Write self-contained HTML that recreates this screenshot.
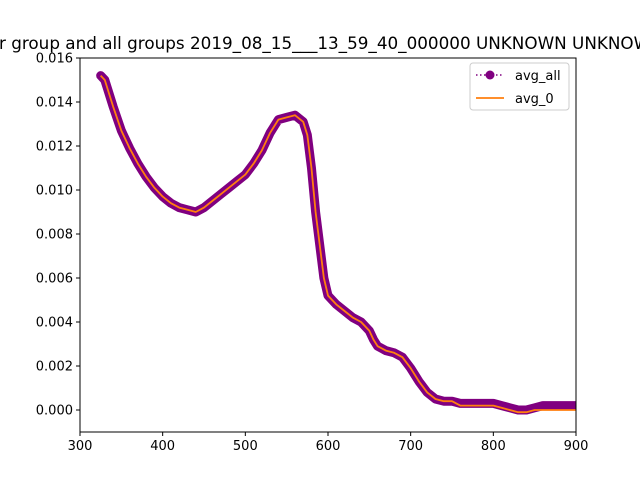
<!DOCTYPE html>
<html><head><meta charset="utf-8"><style>body{margin:0;background:#fff}svg{display:block;font-family:"DejaVu Sans","Liberation Sans",sans-serif}</style></head>
<body>
<svg id="chart" width="640" height="480"></svg>
<script>
const xs = [325,330,340,350,360,370,380,390,400,410,420,430,440,450,460,470,480,490,500,510,520,530,540,550,560,570,575,580,585,590,595,600,610,620,630,640,650,655,660,670,680,690,700,710,720,730,740,750,760,770,780,800,810,820,830,840,850,860,880,900];
const avgAll = [0.0152,0.0150,0.0138,0.0127,0.0119,0.0112,0.0106,0.0101,0.0097,0.0094,0.0092,0.0091,0.0090,0.0092,0.0095,0.0098,0.0101,0.0104,0.0107,0.0112,0.0118,0.0126,0.0132,0.0133,0.0134,0.0131,0.0125,0.0110,0.0090,0.0075,0.0060,0.0052,0.0048,0.0045,0.0042,0.0040,0.0036,0.0032,0.0029,0.0027,0.0026,0.0024,0.0019,0.0013,0.0008,0.0005,0.0004,0.0004,0.0003,0.0003,0.0003,0.0003,0.0002,0.0001,0.0000,0.0000,0.0001,0.0002,0.0002,0.0002];
const avg0 = [0.0152,0.0150,0.0138,0.0127,0.0119,0.0112,0.0106,0.0101,0.0097,0.0094,0.0092,0.0091,0.0090,0.0092,0.0095,0.0098,0.0101,0.0104,0.0107,0.0112,0.0118,0.0126,0.0132,0.0133,0.0134,0.0131,0.0125,0.0110,0.0090,0.0075,0.0060,0.0052,0.0048,0.0045,0.0042,0.0040,0.0036,0.0032,0.0029,0.0027,0.0026,0.0024,0.0019,0.0013,0.0008,0.0005,0.0004,0.0004,0.0002,0.0002,0.0002,0.0002,0.0001,0.0000,-0.0001,-0.0001,0.0000,0.0000,0.0000,0.0000];
const xTicks = [300,400,500,600,700,800,900];
const yTicks = [0,0.002,0.004,0.006,0.008,0.010,0.012,0.014,0.016];
const yLabels = ["0.000","0.002","0.004","0.006","0.008","0.010","0.012","0.014","0.016"];

const L=80,R=576,T=58,B=432;
const sx=v=>L+(v-300)/600*(R-L);
const sy=v=>410-v/0.002*44;
const svg=document.getElementById('chart');
const NS="http://www.w3.org/2000/svg";
function mk(tag,at,par){const e=document.createElementNS(NS,tag);for(const k in at)e.setAttribute(k,at[k]);(par||svg).appendChild(e);return e;}

const pre=mk('text',{x:0,y:-100,'font-size':16.8});
pre.textContent="Average fo";
const preW=pre.getComputedTextLength();
svg.removeChild(pre);
const t=mk('text',{x:-preW-1,y:49,'font-size':16.8});
t.textContent="Average for group and all groups 2019_08_15___13_59_40_000000 UNKNOWN UNKNOWN";



const cp=mk('clipPath',{id:'cp'});mk('rect',{x:L,y:T,width:R-L,height:B-T},cp);
const g=mk('g',{'clip-path':'url(#cp)'});
const pts=(ys)=>xs.map((x,i)=>sx(x)+','+sy(ys[i])).join(' ');
const p1=mk('polyline',{points:pts(avgAll),fill:'none',stroke:'#800080','stroke-width':9,'stroke-linejoin':'round','stroke-linecap':'round'},g);


const p2=mk('polyline',{points:pts(avg0),fill:'none',stroke:'#ff7f0e','stroke-width':1.8,'stroke-linejoin':'round'},g);



const fr=mk('rect',{x:L,y:T,width:R-L,height:B-T,fill:'none',stroke:'#000','stroke-width':1});



xTicks.forEach(v=>{const x=sx(v);mk('line',{x1:x,x2:x,y1:B,y2:B+4,stroke:'#000'});
 const tx=mk('text',{x:x,y:B+18,'text-anchor':'middle','font-size':13});tx.textContent=v;
 
 });
yTicks.forEach((v,i)=>{const y=sy(v);mk('line',{x1:L-4,x2:L,y1:y,y2:y,stroke:'#000'});
 const tx=mk('text',{x:L-7,y:y+4.5,'text-anchor':'end','font-size':13});tx.textContent=yLabels[i];
 
 });

const lg=mk('g',{});


mk('rect',{x:470,y:63,width:99,height:47,rx:3,fill:'#fff',stroke:'#ccc'},lg);
mk('line',{x1:476,x2:504,y1:75,y2:75,stroke:'#800080','stroke-width':1.5,'stroke-dasharray':'1.5,2.5'},lg);
mk('circle',{cx:490,cy:75,r:4.5,fill:'#800080'},lg);
const l1=mk('text',{x:515,y:80,'font-size':13},lg);l1.textContent='avg_all';
mk('line',{x1:476,x2:504,y1:98,y2:98,stroke:'#ff7f0e','stroke-width':1.8},lg);
const l2=mk('text',{x:515,y:103,'font-size':13},lg);l2.textContent='avg_0';
</script>
</body></html>
